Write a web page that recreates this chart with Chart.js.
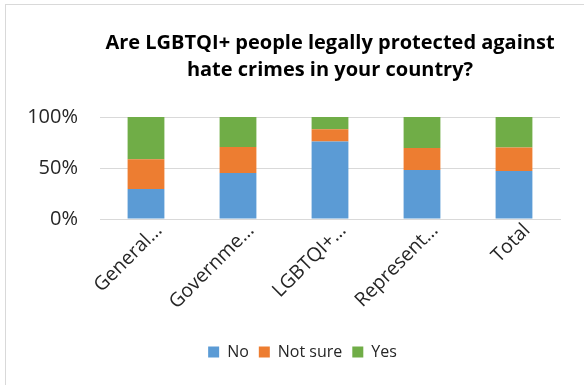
<!DOCTYPE html>
<html>
<head>
<meta charset="utf-8">
<script src="https://cdn.jsdelivr.net/npm/chart.js@4.4.1/dist/chart.umd.min.js"></script>
<style>
    html, body { margin: 0; padding: 0; background: #fff; overflow: hidden; }
    #frame { position: absolute; left: 5px; top: 4px; width: 640px; height: 420px; border: 1px solid #d9d9d9; }
    #chartHate { position: absolute; left: 0; top: 0; }
</style>
</head>
<body>
<div id="frame"><canvas id="chartHate" width="593" height="380"></canvas></div>
<script>
// values (percent of respondents)
const labels = ['General…', 'Governme…', 'LGBTQI+…', 'Represent…', 'Total'];
const dataNo = [29.5, 45, 76, 48, 47];
const dataNotSure = [29, 25.5, 12, 21.5, 23];
const dataYes = [41.5, 29.5, 12, 30.5, 30];
const yTicks = [0, 50, 100];

const titleLines = ['Are LGBTQI+ people legally protected against', 'hate crimes in your country?'];

let ctx = document.getElementById('chartHate');

let hateChart = new Chart(ctx, {
    type: 'bar',
    data: {
        labels: labels,
        datasets: [
            { label: 'No', data: dataNo, backgroundColor: '#5b9bd5' },
            { label: 'Not sure', data: dataNotSure, backgroundColor: '#ed7d31' },
            { label: 'Yes', data: dataYes, backgroundColor: '#70ad47' }
        ]
    },
    options: {
        responsive: false,
        animation: false,
        devicePixelRatio: 1,
        layout: { padding: { top: 0, left: 0, right: 0, bottom: 15 } },
        datasets: {
            bar: { barPercentage: 0.4, categoryPercentage: 1.0 }
        },
        plugins: {
            title: {
                display: true,
                fullSize: false,
                text: titleLines,
                color: '#000',
                font: { family: 'Open Sans', size: 20, weight: 'bold', lineHeight: 1.35 },
                padding: { top: 25, bottom: 33 }
            },
            legend: {
                position: 'bottom',
                labels: {
                    boxWidth: 11,
                    boxHeight: 11,
                    padding: 10,
                    color: '#262626',
                    font: { family: 'Open Sans', size: 16 }
                }
            },
            tooltip: { enabled: false }
        },
        scales: {
            x: {
                stacked: true,
                grid: { display: false },
                border: { display: true, color: '#d9d9d9' },
                ticks: {
                    autoSkip: false,
                    minRotation: 45,
                    maxRotation: 45,
                    labelOffset: 13,
                    padding: -8,
                    color: '#262626',
                    font: { family: 'Open Sans', size: 19.5 }
                },
                afterFit: (scale) => { scale.height = 115; }
            },
            y: {
                stacked: true,
                min: 0,
                max: 100,
                border: { display: false },
                grid: { color: '#d9d9d9', drawTicks: false },
                afterBuildTicks: (scale) => {
                    scale.ticks = yTicks.map(v => ({ value: v }));
                },
                ticks: {
                    padding: 22,
                    color: '#262626',
                    font: { family: 'Open Sans', size: 20 },
                    callback: (v) => v + '%'
                },
                afterFit: (scale) => { scale.width = 94; }
            },
            // empty axis on the right, only keeps the plot where Excel had it
            pad: {
                type: 'linear',
                position: 'right',
                grid: { display: false },
                border: { display: false },
                ticks: { display: false },
                afterFit: (scale) => { scale.width = 39; }
            }
        }
    }
});
</script>
</body>
</html>
